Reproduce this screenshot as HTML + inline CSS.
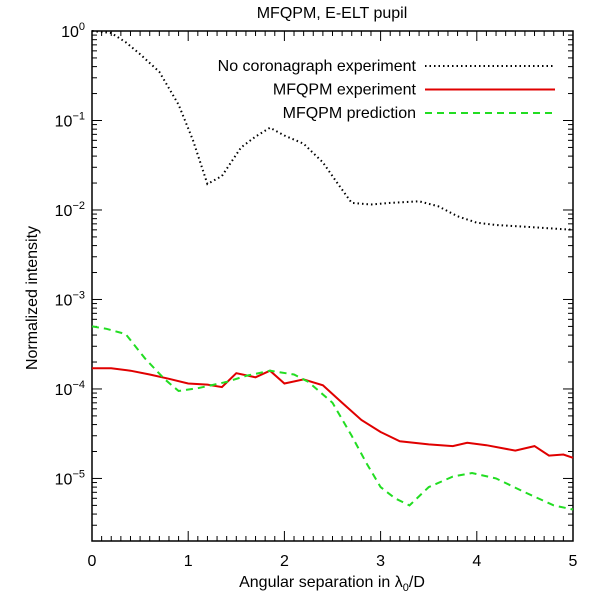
<!DOCTYPE html>
<html><head><meta charset="utf-8"><style>
body{margin:0;background:#fff}
svg text{font-family:"Liberation Sans",sans-serif;fill:#000}
</style></head><body>
<svg id="chart" width="600" height="600"></svg>
<script>
const blackX=[0,0.2,0.35,0.5,0.7,0.9,1.05,1.2,1.35,1.55,1.7,1.85,2.0,2.2,2.4,2.55,2.7,2.9,3.1,3.4,3.6,3.8,4.0,4.2,4.5,4.8,5.0];
const blackY=[1.0,0.95,0.75,0.55,0.35,0.15,0.06,0.0195,0.024,0.05,0.066,0.083,0.068,0.055,0.034,0.02,0.012,0.0115,0.012,0.0125,0.011,0.0085,0.0072,0.0068,0.0065,0.0062,0.006];
const redX=[0,0.2,0.4,0.6,0.8,1.0,1.2,1.35,1.5,1.7,1.85,2.0,2.2,2.4,2.6,2.8,3.0,3.2,3.5,3.75,3.9,4.1,4.4,4.6,4.75,4.9,5.0];
const redY=[1.7e-4,1.7e-4,1.6e-4,1.45e-4,1.3e-4,1.15e-4,1.12e-4,1.05e-4,1.5e-4,1.35e-4,1.6e-4,1.15e-4,1.28e-4,1.1e-4,7e-5,4.5e-5,3.3e-5,2.6e-5,2.4e-5,2.3e-5,2.5e-5,2.35e-5,2.05e-5,2.3e-5,1.8e-5,1.85e-5,1.7e-5];
const greenX=[0,0.15,0.35,0.55,0.75,0.9,1.1,1.4,1.6,1.85,2.1,2.25,2.5,2.7,2.85,3.0,3.15,3.3,3.5,3.75,3.95,4.2,4.5,4.8,5.0];
const greenY=[5e-4,4.7e-4,4.1e-4,2.2e-4,1.3e-4,9.5e-5,1.02e-4,1.2e-4,1.4e-4,1.6e-4,1.45e-4,1.2e-4,7e-5,3e-5,1.5e-5,8e-6,6e-6,5e-6,8e-6,1.05e-5,1.15e-5,1e-5,7e-6,5e-6,4.5e-6];
const xTicks=[0,1,2,3,4,5];
const yExps=[0,-1,-2,-3,-4,-5];
const L=92,R=573,T=31,B=541;
const YMIN=2e-6;
const sx=v=>L+(R-L)*v/5;
const sy=v=>T+(B-T)*(-Math.log10(v))/(-Math.log10(YMIN));
const svg=document.getElementById('chart');
const NS='http://www.w3.org/2000/svg';
function mk(tag,at,parent){const e=document.createElementNS(NS,tag);for(const k in at)e.setAttribute(k,at[k]);(parent||svg).appendChild(e);return e;}
let e;
e=mk('rect',{x:L,y:T,width:R-L,height:B-T,fill:'none',stroke:'#000','stroke-width':1.5});


for(let i=0;i<=50;i++){const v=i/10;const len=(i%10===0)?10:5;const x=sx(v);
mk('line',{x1:x,x2:x,y1:B,y2:B-len,stroke:'#000'});mk('line',{x1:x,x2:x,y1:T,y2:T+len,stroke:'#000'});}
xTicks.forEach(v=>{e=mk('text',{x:sx(v),y:B+25,'text-anchor':'middle','font-size':16});e.textContent=v;

});
for(let d=0;d<6;d++){for(let m=1;m<10;m++){const v=m*Math.pow(10,-d-1);if(v<YMIN*0.999)continue;const y=sy(v);const len=m===1?10:5;
mk('line',{x1:L,x2:L+len,y1:y,y2:y,stroke:'#000'});mk('line',{x1:R,x2:R-len,y1:y,y2:y,stroke:'#000'});}}
yExps.forEach(p=>{e=mk('text',{x:L-7,y:sy(Math.pow(10,p))+6,'text-anchor':'end','font-size':16});
e.innerHTML='10<tspan dy="-7" font-size="11">'+(p===0?'0':'−'+(-p))+'</tspan>';

});
function series(xs,ys,col,dash,name,w){const d=xs.map((x,i)=>(i?'L':'M')+sx(x).toFixed(1)+','+sy(ys[i]).toFixed(1)).join(' ');
const p=mk('path',{d:d,fill:'none',stroke:col,'stroke-width':w,'stroke-dasharray':dash});

}
series(blackX,blackY,'#000','1.5 3','no-coronagraph-line',2);
series(redX,redY,'#e00000','none','mfqpm-experiment-line',2);
series(greenX,greenY,'#22dd22','7 5','mfqpm-prediction-line',2);
const leg=[['No coronagraph experiment','#000','1.5 3'],['MFQPM experiment','#e00000','none'],['MFQPM prediction','#22dd22','7 5']];
leg.forEach((l,i)=>{const y=66+i*23.5;
e=mk('text',{x:416,y:y+5,'text-anchor':'end','font-size':16});e.textContent=l[0];


e=mk('line',{x1:425,x2:555,y1:y,y2:y,stroke:l[1],'stroke-width':2,'stroke-dasharray':l[2]});

});
e=mk('text',{x:332,y:18,'text-anchor':'middle','font-size':16});e.textContent='MFQPM, E-ELT pupil';


e=mk('text',{x:332,y:587,'text-anchor':'middle','font-size':16});e.innerHTML='Angular separation in λ<tspan dy="4" font-size="11">0</tspan><tspan dy="-4">/D</tspan>';


e=mk('text',{x:0,y:0,'text-anchor':'middle','font-size':16,transform:'translate(37,298) rotate(-90)'});e.textContent='Normalized intensity';


</script>
</body></html>
